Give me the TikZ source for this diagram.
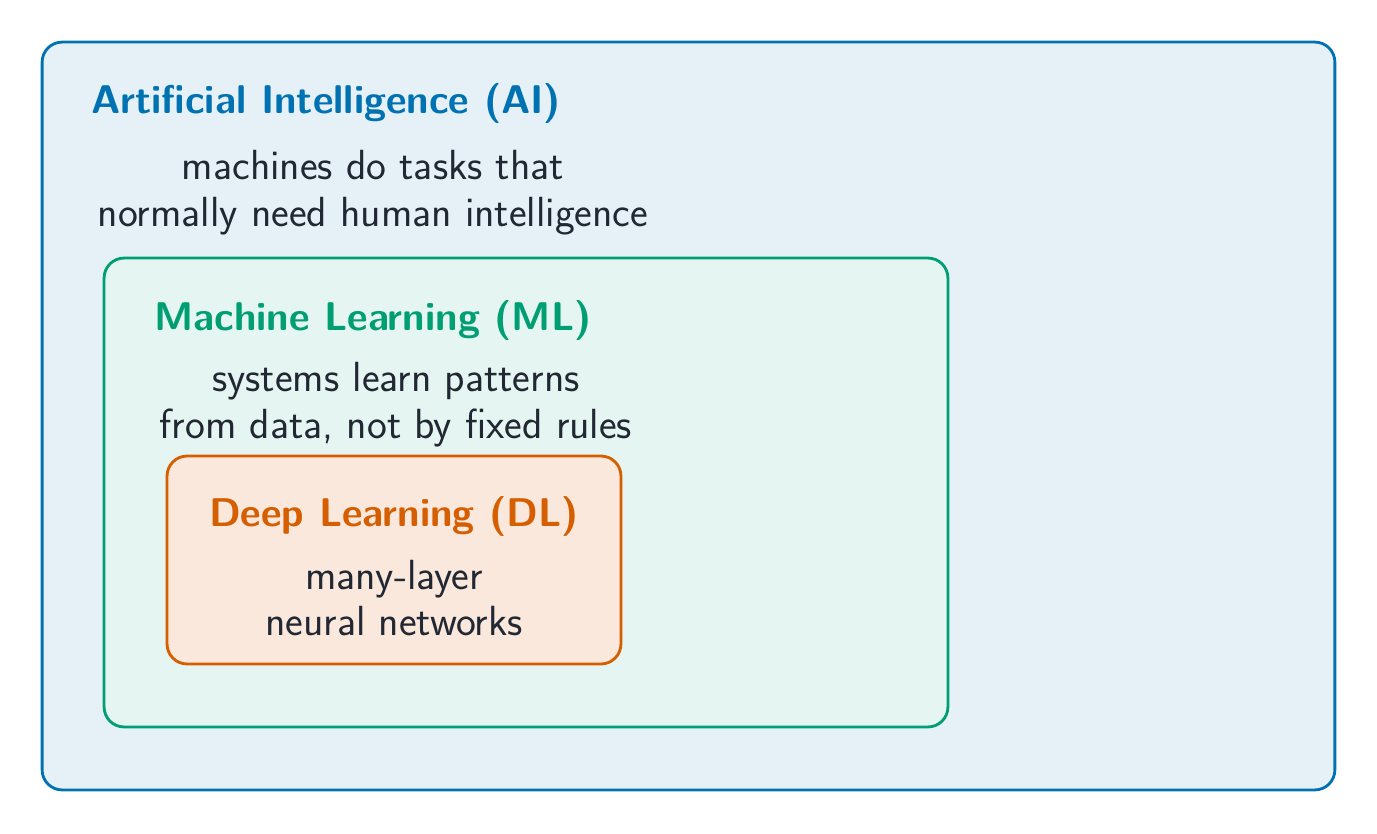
\documentclass[tikz,border=0pt]{standalone}
\usepackage{tikz}
\usetikzlibrary{positioning}
\definecolor{aiblue}{HTML}{0072B2}
\definecolor{mlgreen}{HTML}{009E73}
\definecolor{dlorange}{HTML}{D55E00}
\definecolor{ink}{HTML}{222833}
\tikzset{
 region/.style={draw=#1,line width=1.6pt,rounded corners=0.4cm,fill=#1!10,inner sep=0pt},
 heading/.style={font=\sffamily\bfseries\fontsize{22.8}{27}\selectfont,text=#1,anchor=west},
 note/.style={font=\sffamily\fontsize{24}{26.6}\selectfont,text=ink,align=center}
}
\begin{document}
\begin{tikzpicture}[x=0.02cm,y=-0.02cm]
 \useasboundingbox (0,0) rectangle (1377,833);
 \node[region=aiblue,minimum width=25.86cm,minimum height=14.96cm] (ai) at (688.5,416) {};
 \node[region=mlgreen,minimum width=16.88cm,minimum height=9.38cm] (ml) at (526,492.5) {};
 \node[region=dlorange,minimum width=9.08cm,minimum height=4.16cm,fill=dlorange!14] (dl) at (394,560) {};
 \node[heading=aiblue] (aititle) at (85,103) {Artificial Intelligence (AI)};
 \node[heading=mlgreen] (mltitle) at (148,320) {Machine Learning (ML)};
 \node[heading=dlorange,anchor=center] (dltitle) at (394,516) {Deep Learning (DL)};
 \node[note] (aitext) at (373,193) {machines do tasks that\\normally need human intelligence};
 \node[note] (mltext) at (396,405) {systems learn patterns\\from data, not by fixed rules};
 \node[note] (dltext) at (394,598) {many-layer\\neural networks};
\end{tikzpicture}
\end{document}
